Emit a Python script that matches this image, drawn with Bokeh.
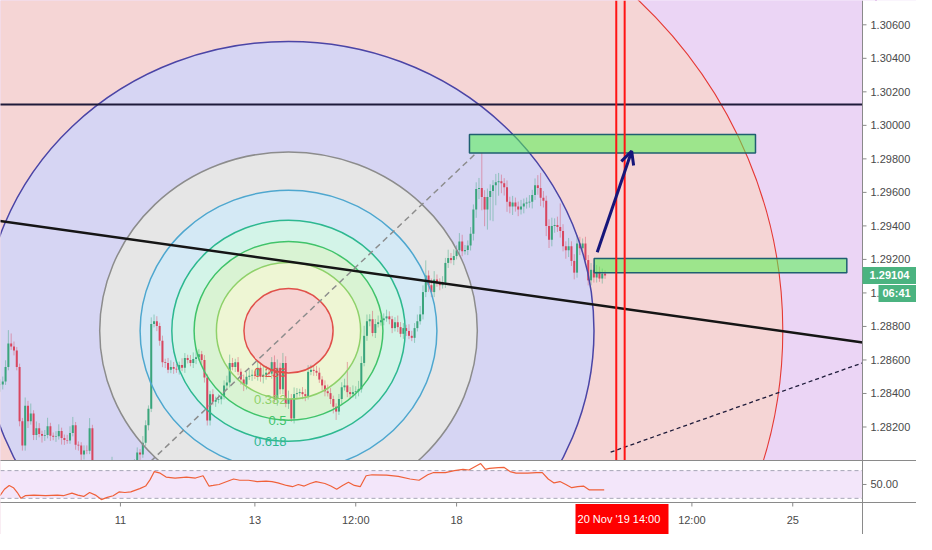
from bokeh.plotting import figure
from bokeh.models import Range1d, Arrow, OpenHead, ColumnDataSource
from bokeh.embed import file_html
from bokeh.resources import INLINE
from bokeh.core.properties import value

# ---------------- data (GBPUSD, 1H bars) ----------------
first_open = 1.28450
close = [
    1.28454, 1.28471, 1.28558, 1.28698, 1.28680, 1.28657, 1.28558, 1.28234, 1.28089, 1.28326,
    1.28234, 1.28280, 1.28152, 1.28193, 1.28158, 1.28147, 1.28152, 1.28205, 1.28147, 1.28141,
    1.28145, 1.28176, 1.28135, 1.28123, 1.28120, 1.28164, 1.28210, 1.28094, 1.28089, 1.28036,
    1.28060, 1.28058, 1.28193, 1.27973, 1.27949, 1.27874, 1.27816, 1.27845, 1.27862, 1.27903,
    1.27932, 1.27915, 1.27891, 1.27900, 1.27926, 1.27938, 1.27917, 1.27950, 1.27978, 1.28048,
    1.28036, 1.28106, 1.28210, 1.28309, 1.28814, 1.28831, 1.28802, 1.28715, 1.28587, 1.28582,
    1.28541, 1.28558, 1.28547, 1.28543, 1.28570, 1.28553, 1.28611, 1.28599, 1.28582, 1.28605,
    1.28616, 1.28634, 1.28599, 1.28495, 1.28239, 1.28396, 1.28350, 1.28361, 1.28365, 1.28384,
    1.28448, 1.28466, 1.28582, 1.28558, 1.28587, 1.28529, 1.28483, 1.28454, 1.28500, 1.28505,
    1.28512, 1.28506, 1.28553, 1.28500, 1.28512, 1.28524, 1.28518, 1.28587, 1.28367, 1.28553,
    1.28425, 1.28582, 1.28338, 1.28367, 1.28251, 1.28396, 1.28402, 1.28408, 1.28396, 1.28384,
    1.28529, 1.28541, 1.28535, 1.28524, 1.28483, 1.28448, 1.28413, 1.28402, 1.28367, 1.28321,
    1.28292, 1.28367, 1.28437, 1.28448, 1.28408, 1.28396, 1.28408, 1.28413, 1.28425, 1.28582,
    1.28744, 1.28831, 1.28843, 1.28761, 1.28814, 1.28825, 1.28837, 1.28848, 1.28860, 1.28843,
    1.28790, 1.28825, 1.28796, 1.28756, 1.28790, 1.28773, 1.28744, 1.28732, 1.28790, 1.28831,
    1.28872, 1.29005, 1.29104, 1.29046, 1.29005, 1.29080, 1.29057, 1.29046, 1.29060, 1.29179,
    1.29208, 1.29196, 1.29220, 1.29254, 1.29307, 1.29249, 1.29256, 1.29283, 1.29353, 1.29498,
    1.29620, 1.29626, 1.29573, 1.29498, 1.29573, 1.29608, 1.29643, 1.29660, 1.29666, 1.29655,
    1.29631, 1.29544, 1.29515, 1.29539, 1.29515, 1.29498, 1.29515, 1.29533, 1.29539, 1.29544,
    1.29585, 1.29643, 1.29626, 1.29568, 1.29550, 1.29399, 1.29318, 1.29399, 1.29405, 1.29394,
    1.29370, 1.29278, 1.29254, 1.29278, 1.29191, 1.29121, 1.29295, 1.29266, 1.29295, 1.29196,
    1.29075, 1.29138, 1.29092, 1.29127, 1.29086, 1.29115, 1.29104,
]
up_wick_pips = [
    3, 3, 4, 8, 6, 3, 2, 2, 2, 5,   3, 6, 2, 4, 3, 2, 3, 5, 2, 2,
    3, 4, 2, 2, 3, 4, 5, 2, 2, 2,   3, 3, 6, 2, 2, 3, 3, 4, 3, 4,
    9, 3, 2, 3, 3, 2, 3, 4, 3, 3,   2, 4, 3, 2, 4, 4, 3, 2, 3, 2,
    3, 4, 3, 3, 2, 4, 3, 2, 3, 4,   5, 3, 2, 3, 2, 2, 3, 2, 3, 2,
    3, 4, 5, 3, 2, 3, 2, 3, 3, 4,   3, 2, 4, 3, 5, 4, 3, 3, 4, 5,
    3, 6, 4, 5, 3, 4, 3, 2, 3, 3,   4, 3, 2, 3, 3, 2, 3, 4, 3, 2,
    2, 3, 3, 4, 14, 3, 4, 3, 5, 4,  6, 4, 3, 5, 3, 4, 3, 3, 4, 3,
    2, 3, 4, 3, 3, 2, 4, 3, 3, 4,   5, 4, 9, 3, 4, 5, 3, 3, 4, 3,
    5, 3, 4, 3, 5, 4, 3, 3, 4, 3,   4, 6, 21, 4, 5, 4, 3, 5, 5, 4,
    3, 4, 3, 4, 3, 3, 4, 3, 3, 4,   3, 4, 6, 9, 4, 3, 4, 5, 4, 5,
    14, 4, 3, 5, 3, 4, 5, 4, 3, 4,  3, 4, 3, 4, 3, 3, 2,
]
dn_wick_pips = [
    4, 3, 2, 2, 2, 3, 2, 3, 3, 3,   4, 2, 3, 3, 2, 4, 3, 2, 3, 2,
    3, 2, 4, 3, 2, 2, 2, 3, 3, 4,   3, 2, 2, 5, 4, 5, 6, 3, 3, 2,
    3, 4, 3, 3, 2, 3, 2, 2, 2, 3,   4, 2, 2, 3, 2, 2, 3, 3, 3, 3,
    2, 2, 3, 2, 3, 2, 3, 2, 2, 3,   3, 2, 3, 3, 3, 3, 2, 3, 2, 3,
    2, 2, 3, 2, 3, 2, 3, 4, 3, 2,   3, 2, 3, 3, 4, 3, 2, 3, 2, 4,
    3, 3, 2, 3, 2, 3, 3, 2, 3, 3,   2, 2, 3, 2, 2, 3, 3, 2, 3, 4,
    5, 2, 3, 2, 3, 3, 2, 4, 3, 2,   2, 3, 3, 2, 3, 2, 2, 3, 2, 3,
    3, 2, 3, 2, 3, 3, 2, 2, 3, 2,   2, 3, 3, 4, 3, 3, 2, 3, 2, 3,
    3, 2, 3, 2, 3, 3, 2, 3, 3, 4,   5, 6, 8, 10, 12, 14, 18, 12, 8, 6,
    5, 6, 4, 5, 3, 4, 3, 4, 3, 3,   4, 3, 4, 5, 4, 6, 5, 4, 4, 3,
    4, 3, 5, 4, 3, 4, 3, 4, 3, 3,   3, 3, 3, 3, 2, 3, 2,
]

# RSI(14) line, sampled at bar positions
rsi_bar = [0, 1.6, 3.3, 4.8, 6.2, 7.5, 9, 12.1, 16.3, 20.5,
           22.6, 25.7, 27.8, 29.9, 32, 34.1, 36.2, 38.3, 40.4, 42.5,
           44.6, 46.7, 49.9, 52, 53.6, 55.1, 57.2, 59.3, 62.5, 66.6,
           69.8, 72.5, 74.6, 76.1, 78.2, 80.3, 83.4, 85.6, 88.7, 91.8,
           95, 97.1, 99.2, 102.3, 104.4, 106.5, 108.6, 110.7, 112.8, 116,
           118.1, 120.2, 122.3, 124.4, 126.5, 128.6, 130.7, 132.8, 138, 142.2,
           146.4, 149.6, 152.7, 154.8, 159, 162.2, 165.3, 167.4, 169.5, 171.6,
           173.3, 174.7, 177.9, 180, 182.1, 184.2, 188.4, 191.5, 193.6, 195.7,
           197.8, 199.9, 202, 204.1, 206.2, 208.3, 210.4, 212.5, 215.7]
rsi_val = [33.8, 43.1, 48.6, 45.4, 38.4, 30.0, 33.8, 34.7, 33.8, 34.7,
           33.8, 37.5, 34.7, 32.8, 38.4, 34.7, 28.2, 31.4, 33.8, 39.3,
           38.4, 39.3, 44.0, 47.7, 57.0, 68.6, 66.3, 60.7, 59.3, 60.7,
           59.3, 62.6, 47.7, 48.6, 50.0, 53.3, 57.9, 56.1, 56.1, 54.2,
           54.7, 54.2, 52.3, 48.6, 46.8, 50.0, 47.7, 51.4, 54.2, 51.4,
           47.7, 43.1, 48.6, 53.3, 48.6, 46.8, 62.6, 64.0, 63.5, 61.6,
           57.9, 56.1, 64.0, 67.2, 67.2, 70.0, 71.9, 70.9, 75.6, 80.2,
           71.9, 73.3, 74.2, 74.6, 68.6, 66.3, 66.3, 67.2, 67.2, 57.9,
           52.3, 54.2, 50.0, 45.4, 46.8, 47.7, 42.1, 42.1, 42.1]
rsi_upper, rsi_lower, rsi_mid = 70, 30, 50

price_ticks = [1.282, 1.284, 1.286, 1.288, 1.290, 1.292, 1.294, 1.296,
               1.298, 1.300, 1.302, 1.304, 1.306]
time_ticks = [43, 91, 127, 163, 247, 283]          # bar index (Nov 11 00:00 = 43)
time_labels = ["11", "13", "12:00", "18", "12:00", "25"]
cursor_text = "20 Nov '19   14:00"
last_price = 1.29104
countdown = "06:41"

# Fib circles drawing
fib_levels = [0.236, 0.382, 0.5, 0.618, 0.786, 1.0, 1.618, 2.618, 3.618]
fib_line_colors = ["#e0504a", "#8fd16a", "#40c36a", "#2db890", "#4ea7cf",
                   "#8c8c8c", "#4b45a6", "#e53935", "#9c27b0"]
fib_fill_colors = ["#f6d3d3", "#eef6d4", "#d9f3d3", "#d3f4e8", "#d4e9f5",
                   "#e6e6e6", "#d6d5f3", "#f5d5d5", "#ebd5f5"]
fib_center_bar, fib_center_price = 103.0, 1.28774
fib_radius_bars, fib_radius_price = 67.4, 0.01067
fib_labelled = 4

# other drawings
hline_price = 1.30125
trend_bars, trend_prices = [0, 308], [1.29430, 1.28704]
dash_bars, dash_prices = [218, 308], [1.28050, 1.28583]
zone_left = [167.6, 212.1]
zone_right = [269.7, 302.3]
zone_bottom = [1.29835, 1.29121]
zone_top = [1.29945, 1.29205]
vline_bars = [220, 223]
arrow_from = (213.2, 1.29243)
arrow_to = (225.5, 1.29846)

UP, DOWN = "#3aa57c", "#d8465f"
AXIS_GRAY = "#8a8a8a"
LABEL_GRAY = "#4a4a4a"
FONT = "Liberation Sans"

# ---------------- layout geometry (everything drawn inside one frame) ----------------
W, H = 916, 534
RIGHT, BOTTOM = 54, 32
FW = W - RIGHT
MH = 460
RH = H - BOTTOM - MH
X0, X1 = 0.19, 307.9
dxpp = (X1 - X0) / FW
XE = X0 + W * dxpp
P_BOT, P_TOP = 1.28000, 1.30745
ppp = (P_TOP - P_BOT) / MH
Y0 = P_BOT - RH * ppp
YB = Y0 - BOTTOM * ppp
R_BOT, R_TOP = 24.0, 84.6
rpp = (R_TOP - R_BOT) / RH
R_START = R_BOT - BOTTOM * rpp
R_END = R_BOT + (MH + RH) * rpp
rsi_as_price = P_BOT - (R_TOP - rsi_mid) / rpp * ppp


def xpx(px):
    return X0 + px * dxpp


p = figure(width=W, height=H, x_range=Range1d(X0, XE), y_range=Range1d(YB, P_TOP),
           output_backend="svg", toolbar_location=None,
           min_border=0, background_fill_color=fib_fill_colors[-1],
           border_fill_color="white", outline_line_color=None)
p.extra_y_ranges = {"rsi": Range1d(R_START, R_END)}
p.axis.visible = False
p.grid.visible = False

# fib fills (largest first)
for lvl, colr in reversed(list(zip(fib_levels, fib_fill_colors))):
    p.ellipse(x=[fib_center_bar], y=[fib_center_price],
              width=[2 * fib_radius_bars * lvl], height=[2 * fib_radius_price * lvl],
              fill_color=colr, line_color=None)

# candles
n = len(close)
opens = [first_open] + close[:-1]
bars = list(range(n))
top = [max(o, c) for o, c in zip(opens, close)]
bot = [min(o, c) for o, c in zip(opens, close)]
hi = [t + u * 1e-4 for t, u in zip(top, up_wick_pips)]
lo = [b - d * 1e-4 for b, d in zip(bot, dn_wick_pips)]
col = [UP if c >= o else DOWN for o, c in zip(opens, close)]
src = ColumnDataSource(dict(x=bars, top=top, bot=bot, hi=hi, lo=lo, col=col))
p.segment(x0="x", y0="lo", x1="x", y1="hi", source=src, line_color="col",
          line_alpha=0.45, line_width=1)
p.vbar(x="x", width=0.72, top="top", bottom="bot", source=src,
       fill_color="col", line_color=None)

# fib outlines, trend line, labels
for lvl, lc in zip(fib_levels, fib_line_colors):
    p.ellipse(x=[fib_center_bar], y=[fib_center_price],
              width=[2 * fib_radius_bars * lvl], height=[2 * fib_radius_price * lvl],
              fill_color=None, line_color=lc, line_width=1.1 if lvl == 2.618 else 1.5)
p.line([fib_center_bar - fib_radius_bars, fib_center_bar + fib_radius_bars],
       [fib_center_price - fib_radius_price, fib_center_price + fib_radius_price],
       line_color="#8c8c8c", line_width=1.5, line_dash="6 4")
p.text(x=[fib_center_bar] * fib_labelled,
       y=[fib_center_price - l * fib_radius_price for l in fib_levels[:fib_labelled]],
       text=[f"{l:g}" for l in fib_levels[:fib_labelled]],
       text_color=fib_line_colors[:fib_labelled], text_align="right",
       text_baseline="middle", text_font=value(FONT), text_font_size="13px", x_offset=-2)

# lines
p.segment(x0=[X0 - 1], y0=[hline_price], x1=[X1], y1=[hline_price],
          line_color="#1e1b3a", line_width=2)
p.line(trend_bars, trend_prices, line_color="#151515", line_width=2.5)
p.line(dash_bars, dash_prices, line_color="#1e1b3a", line_width=1.3, line_dash="4 3")

# zones, red verticals, arrow
p.quad(left=zone_left, right=zone_right, bottom=zone_bottom, top=zone_top,
       fill_color="#54f251", fill_alpha=0.55, line_color="#1f5f70", line_width=1.5)
p.segment(x0=vline_bars, y0=[P_BOT] * 2, x1=vline_bars, y1=[P_TOP] * 2,
          line_color="#ff1414", line_width=2)
arrow_head = OpenHead(size=13, line_color="#16167a", line_width=3)
p.add_layout(Arrow(end=arrow_head, x_start=arrow_from[0], y_start=arrow_from[1],
                   x_end=arrow_to[0], y_end=arrow_to[1],
                   line_color="#16167a", line_width=3, level="glyph"))

# RSI pane
p.quad(left=[X0 - 2], right=[X1], bottom=[Y0], top=[P_BOT],
       fill_color="white", line_color=None)
p.quad(left=[X0 - 2], right=[X1], bottom=[rsi_lower], top=[rsi_upper],
       y_range_name="rsi", fill_color="#f3e6fa", line_color=None)
p.segment(x0=[X0, X0], y0=[rsi_upper, rsi_lower], x1=[X1, X1], y1=[rsi_upper, rsi_lower],
          y_range_name="rsi", line_color="#a6a6b6", line_width=1, line_dash="4 3")
p.line(rsi_bar, rsi_val, y_range_name="rsi", line_color="#f0613a", line_width=1.2)

# axis areas (price scale on the right, time scale below)
p.quad(left=[X1], right=[XE + 1], bottom=[YB - 0.001], top=[P_TOP + 0.001],
       fill_color="white", line_color=None)
p.quad(left=[X0 - 2], right=[XE + 1], bottom=[YB - 0.001], top=[Y0],
       fill_color="white", line_color=None)
p.segment(x0=[X1], y0=[YB], x1=[X1], y1=[P_TOP], line_color=AXIS_GRAY, line_width=1)
p.segment(x0=[X0 - 1, X0 - 1], y0=[P_BOT, Y0], x1=[XE, XE], y1=[P_BOT, Y0],
          line_color=AXIS_GRAY, line_width=1)

ytick_vals = price_ticks + [rsi_as_price]
ytick_text = [f"{t:.5f}" for t in price_ticks] + [f"{rsi_mid:.2f}"]
p.segment(x0=[X1] * len(ytick_vals), y0=ytick_vals, x1=[xpx(FW + 4)] * len(ytick_vals),
          y1=ytick_vals, line_color=AXIS_GRAY, line_width=1)
p.text(x=[xpx(FW + 8)] * len(ytick_vals), y=ytick_vals, text=ytick_text,
       text_align="left", text_baseline="middle", text_color=LABEL_GRAY,
       text_font=value(FONT), text_font_size="11px")

p.segment(x0=time_ticks, y0=[Y0] * len(time_ticks), x1=time_ticks,
          y1=[Y0 - 4 * ppp] * len(time_ticks), line_color=AXIS_GRAY, line_width=1)
p.text(x=time_ticks, y=[Y0 - 17 * ppp] * len(time_ticks), text=time_labels,
       text_align="center", text_baseline="middle", text_color=LABEL_GRAY,
       text_font=value(FONT), text_font_size="11px")

# last price, countdown and crosshair time labels
p.quad(left=[X1], right=[XE + 1], bottom=[last_price - 8.5 * ppp],
       top=[last_price + 8.5 * ppp], fill_color="#4bb380", line_color=None)
p.text(x=[xpx(FW + 27)], y=[last_price], text=[f"{last_price:.5f}"],
       text_align="center", text_baseline="middle", text_color="white",
       text_font=value(FONT), text_font_size="11px", text_font_style="bold")
cd_y = last_price - 18 * ppp
p.quad(left=[xpx(FW + 16)], right=[XE + 1], bottom=[cd_y - 8.5 * ppp],
       top=[cd_y + 8.5 * ppp], fill_color="#4bb380", line_color=None)
p.text(x=[xpx(FW + 20)], y=[cd_y], text=[countdown],
       text_align="left", text_baseline="middle", text_color="white",
       text_font=value(FONT), text_font_size="11px", text_font_style="bold")

p.quad(left=[xpx(575)], right=[xpx(668)], bottom=[YB - 0.001], top=[Y0 - 1.5 * ppp],
       fill_color="#ff0000", line_color=None)
p.text(x=[xpx(621.5)], y=[Y0 - 16 * ppp], text=[cursor_text],
       text_align="center", text_baseline="middle", text_color="white",
       text_font=value(FONT), text_font_size="11px")

open("out.html", "w").write(file_html(p, INLINE, "GBPUSD 1H"))
